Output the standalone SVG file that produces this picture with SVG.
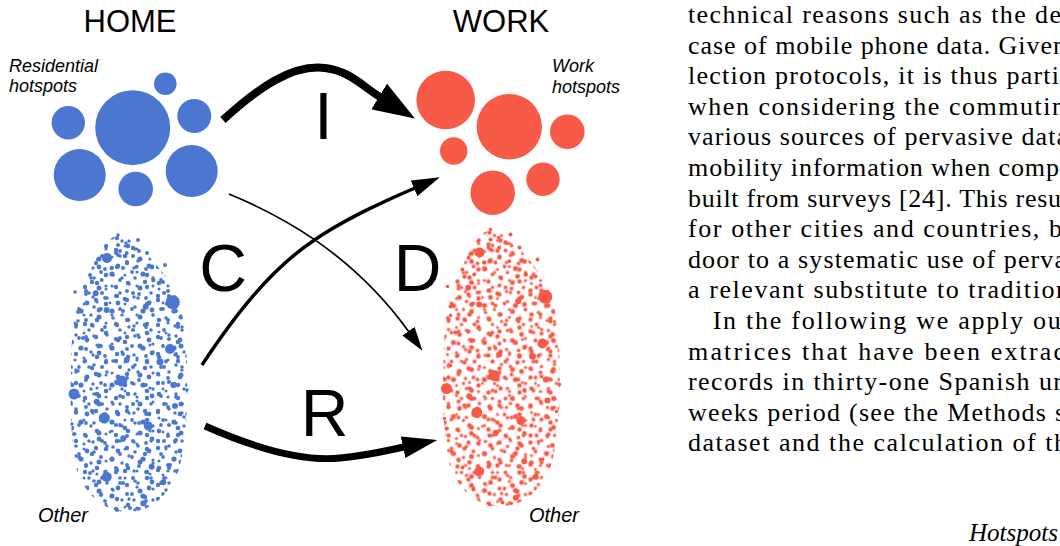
<svg xmlns="http://www.w3.org/2000/svg" width="1060" height="546" viewBox="0 0 1060 546">
<style>
  .sans { font-family: "Liberation Sans", Arial, sans-serif; fill: #000; }
  .head { font-size: 31px; text-anchor: middle; }
  .big { font-size: 66px; text-anchor: middle; }
  .it { font-style: italic; font-size: 18px; }
  .other { font-style: italic; font-size: 20px; }
  .body { font-family: "Liberation Serif", "Times New Roman", serif; font-size: 26px; fill: #000; }
  .home { fill: #4b77d1; }
  .work { fill: #f85a48; }
  .arrow { fill: none; stroke: #000; stroke-linecap: butt; }
</style>
<defs>
  <marker id="headI" viewBox="0 0 42 30" refX="1" refY="15" markerWidth="42" markerHeight="30" markerUnits="userSpaceOnUse" orient="auto">
    <path d="M0,0 L42,15 L0,30 Z" fill="#000"/>
  </marker>
  <marker id="headR" viewBox="0 0 35 22" refX="1" refY="11" markerWidth="35" markerHeight="22" markerUnits="userSpaceOnUse" orient="auto">
    <path d="M0,0 L35,11 L0,22 Z" fill="#000"/>
  </marker>
  <marker id="headC" viewBox="0 0 28 17" refX="1" refY="8.5" markerWidth="28" markerHeight="17" markerUnits="userSpaceOnUse" orient="auto">
    <path d="M0,0 L28,8.5 L0,17 Z" fill="#000"/>
  </marker>
  <marker id="headD" viewBox="0 0 24 15" refX="1" refY="7.5" markerWidth="24" markerHeight="15" markerUnits="userSpaceOnUse" orient="auto">
    <path d="M0,0 L24,7.5 L0,15 Z" fill="#000"/>
  </marker>

  <pattern id="pA" patternUnits="userSpaceOnUse" width="31" height="37">
    <g fill="#fff">
      <circle cx="3" cy="4" r="2.2"/><circle cx="14" cy="2" r="1.8"/><circle cx="25" cy="7" r="2.4"/>
      <circle cx="8" cy="13" r="1.9"/><circle cx="19" cy="15" r="2.6"/><circle cx="29" cy="19" r="1.7"/>
      <circle cx="4" cy="24" r="2.3"/><circle cx="13" cy="27" r="1.6"/><circle cx="23" cy="28" r="2.2"/>
      <circle cx="9" cy="34" r="2.0"/><circle cx="27" cy="34" r="1.8"/>
    </g>
  </pattern>
  <pattern id="pB" patternUnits="userSpaceOnUse" x="7" y="11" width="41" height="29">
    <g fill="#fff">
      <circle cx="5" cy="6" r="1.8"/><circle cx="17" cy="3" r="2.3"/><circle cx="31" cy="8" r="1.9"/>
      <circle cx="38" cy="19" r="2.0"/><circle cx="10" cy="16" r="2.5"/><circle cx="23" cy="14" r="1.6"/>
      <circle cx="28" cy="24" r="2.2"/><circle cx="4" cy="25" r="1.7"/><circle cx="16" cy="26" r="1.9"/>
      <circle cx="36" cy="3" r="1.5"/>
    </g>
  </pattern>
  <pattern id="pD" patternUnits="userSpaceOnUse" x="13" y="5" width="53" height="43">
    <g fill="#fff">
      <circle cx="4" cy="5" r="2.0"/><circle cx="18" cy="9" r="1.6"/><circle cx="33" cy="4" r="2.4"/>
      <circle cx="47" cy="12" r="1.8"/><circle cx="10" cy="21" r="1.7"/><circle cx="26" cy="19" r="2.2"/>
      <circle cx="40" cy="26" r="1.5"/><circle cx="50" cy="33" r="2.1"/><circle cx="6" cy="36" r="2.3"/>
      <circle cx="20" cy="31" r="1.9"/><circle cx="31" cy="39" r="1.6"/><circle cx="44" cy="40" r="1.4"/>
    </g>
  </pattern>

  <path id="cloudShape" d="M118,236 C132,236 150,255 168,280 C182,300 187,330 187,370 C188,410 186,440 180,465 C172,495 150,512 128,512 C105,512 85,495 77,470 C71,445 70,410 71,370 C72,330 74,300 86,278 C98,256 106,236 118,236 Z"/>

  <mask id="cloudMask" maskUnits="userSpaceOnUse" x="50" y="220" width="160" height="310">
    <use href="#cloudShape" fill="url(#pA)"/>
    <use href="#cloudShape" fill="url(#pB)"/>
    <use href="#cloudShape" fill="url(#pD)"/>
    <g fill="#fff">
      <!-- large dots -->
      <circle cx="172.7" cy="302.3" r="7"/><circle cx="170" cy="349" r="5"/><circle cx="121.7" cy="381" r="5.5"/>
      <circle cx="74" cy="394" r="5.5"/><circle cx="104.3" cy="418" r="5.5"/><circle cx="148.3" cy="426" r="4.5"/>
      <circle cx="106.7" cy="477" r="5"/><circle cx="107" cy="258" r="5"/>
      <!-- medium dots -->
      <circle cx="95.7" cy="293.3" r="3"/><circle cx="106.7" cy="310" r="3"/><circle cx="160" cy="361.7" r="3.5"/>
      <circle cx="145.7" cy="306.7" r="3"/><circle cx="96.7" cy="401.7" r="3"/><circle cx="151.7" cy="466.7" r="3"/>
      <circle cx="143.3" cy="503.3" r="3"/><circle cx="163.3" cy="482.3" r="3"/><circle cx="126.7" cy="360" r="3"/>
      <circle cx="173.3" cy="385" r="3"/><circle cx="175" cy="406" r="3"/><circle cx="123.3" cy="438.3" r="3"/>
      <!-- edge dots -->
      <circle cx="78" cy="312" r="2"/><circle cx="78" cy="321" r="1.8"/><circle cx="83" cy="338" r="2"/>
      <circle cx="78" cy="371" r="1.8"/><circle cx="72" cy="424" r="1.8"/><circle cx="74" cy="434" r="2"/>
      <circle cx="79" cy="457" r="2"/><circle cx="90" cy="473" r="2"/><circle cx="101" cy="495" r="2"/>
      <circle cx="117" cy="510" r="2"/><circle cx="130" cy="508" r="2"/><circle cx="170" cy="465" r="2"/>
      <circle cx="175" cy="441" r="2"/><circle cx="184" cy="417" r="1.8"/><circle cx="187" cy="390" r="1.8"/>
      <circle cx="178" cy="357" r="2"/><circle cx="178" cy="327" r="2"/><circle cx="163" cy="282" r="2"/>
      <circle cx="118" cy="235" r="1.8"/><circle cx="138" cy="240" r="2"/><circle cx="147" cy="253" r="2"/>
      <circle cx="165" cy="265" r="2"/><circle cx="90" cy="275" r="2"/><circle cx="75" cy="292" r="1.8"/>
      <circle cx="118" cy="245" r="2"/><circle cx="126" cy="243" r="1.8"/><circle cx="126.7" cy="253" r="2"/>
      <circle cx="133" cy="248" r="2.2"/><circle cx="118" cy="255" r="2"/><circle cx="111.7" cy="268" r="2.2"/>
      <circle cx="136.7" cy="266.7" r="2"/><circle cx="145" cy="281.7" r="2"/><circle cx="101.7" cy="280" r="2"/>
      <circle cx="153.3" cy="280" r="2.2"/>
    </g>
  </mask>
</defs>

<rect width="1060" height="546" fill="#fff"/>

<!-- Headings -->
<g id="home-title"><text class="sans head" x="130" y="32">HOME</text></g>
<g id="work-title"><text class="sans head" x="501" y="32">WORK</text></g>

<!-- Residential hotspots -->
<g id="home-hotspots">
  <text class="sans it" x="9" y="72">Residential</text>
  <text class="sans it" x="9" y="92">hotspots</text>
  <g class="home">
    <circle cx="132.7" cy="127.7" r="37.5"/>
    <circle cx="165.3" cy="83.7" r="11.3"/>
    <circle cx="68.3" cy="122.7" r="16.7"/>
    <circle cx="194.3" cy="116" r="17"/>
    <circle cx="79.7" cy="175" r="26"/>
    <circle cx="135.7" cy="189" r="17.3"/>
    <circle cx="191.7" cy="171" r="26"/>
  </g>
</g>

<!-- Work hotspots -->
<g id="work-hotspots">
  <text class="sans it" x="552" y="72">Work</text>
  <text class="sans it" x="552" y="93">hotspots</text>
  <g class="work">
    <circle cx="445.7" cy="100" r="29.3"/>
    <circle cx="509.3" cy="126.7" r="32.7"/>
    <circle cx="567.3" cy="131.7" r="17.3"/>
    <circle cx="453.7" cy="151" r="13.7"/>
    <circle cx="492.7" cy="192.7" r="22.3"/>
    <circle cx="543" cy="179.3" r="16.7"/>
  </g>
</g>

<!-- Other (home) -->
<g id="home-other">
  <rect class="home" x="50" y="220" width="160" height="310" mask="url(#cloudMask)"/>
  <text class="sans other" x="38" y="522">Other</text>
</g>

<!-- Other (work) -->
<g id="work-other">
  <g transform="translate(372.5,-5.5)">
    <rect class="work" x="50" y="220" width="160" height="310" mask="url(#cloudMask)"/>
  </g>
  <text class="sans other" x="529" y="522">Other</text>
</g>

<!-- Connectors -->
<g id="connectors">
  <g id="flow-I">
    <path class="arrow" stroke-width="8" d="M223,120 C258,88 292,64 325,68 C350,71 362,86 380,97" marker-end="url(#headI)"/>
    <text class="sans big" x="323.5" y="139">I</text>
  </g>
  <g id="flow-C">
    <path class="arrow" stroke-width="3.5" d="M202,365 C235,315 270,270 313,241 C345,219 380,203 415,188" marker-end="url(#headC)"/>
    <text class="sans big" x="223" y="291">C</text>
  </g>
  <g id="flow-D">
    <path class="arrow" stroke-width="1.7" d="M229,194 C275,213 350,250 409,332" marker-end="url(#headD)"/>
    <text class="sans big" x="417.5" y="291">D</text>
  </g>
  <g id="flow-R">
    <path class="arrow" stroke-width="7" d="M205,426 C250,446 300,462 340,458 C365,456 385,451 404,447" marker-end="url(#headR)"/>
    <text class="sans big" x="324.5" y="436">R</text>
  </g>
</g>

<!-- Page text (right column) -->
<g id="page-text" class="body">
  <text x="688" y="23" textLength="373" lengthAdjust="spacing">technical reasons such as the de</text>
  <text x="688" y="53.6" textLength="378" lengthAdjust="spacing">case of mobile phone data. Given</text>
  <text x="688" y="84.2" textLength="371" lengthAdjust="spacing">lection protocols, it is thus parti</text>
  <text x="688" y="114.8" textLength="377" lengthAdjust="spacing">when considering the commutin</text>
  <text x="688" y="145.4" textLength="380" lengthAdjust="spacing">various sources of pervasive data</text>
  <text x="688" y="176" textLength="371" lengthAdjust="spacing">mobility information when comp</text>
  <text x="688" y="206.6" textLength="373" lengthAdjust="spacing">built from surveys [24]. This resu</text>
  <text x="688" y="237.2" textLength="374" lengthAdjust="spacing">for other cities and countries, b</text>
  <text x="688" y="267.8" textLength="378" lengthAdjust="spacing">door to a systematic use of perva</text>
  <text x="688" y="298.4" textLength="381" lengthAdjust="spacing">a relevant substitute to tradition</text>
  <text x="712.7" y="329" textLength="348" lengthAdjust="spacing">In the following we apply ou</text>
  <text x="688" y="359.6" textLength="377" lengthAdjust="spacing">matrices that have been extrac</text>
  <text x="688" y="390.2" textLength="374" lengthAdjust="spacing">records in thirty-one Spanish ur</text>
  <text x="688" y="420.8" textLength="377" lengthAdjust="spacing">weeks period (see the Methods s</text>
  <text x="688" y="451.4" textLength="379" lengthAdjust="spacing">dataset and the calculation of th</text>
  <text x="969" y="541" font-style="italic" textLength="89" lengthAdjust="spacingAndGlyphs">Hotspots</text>
</g>
</svg>
